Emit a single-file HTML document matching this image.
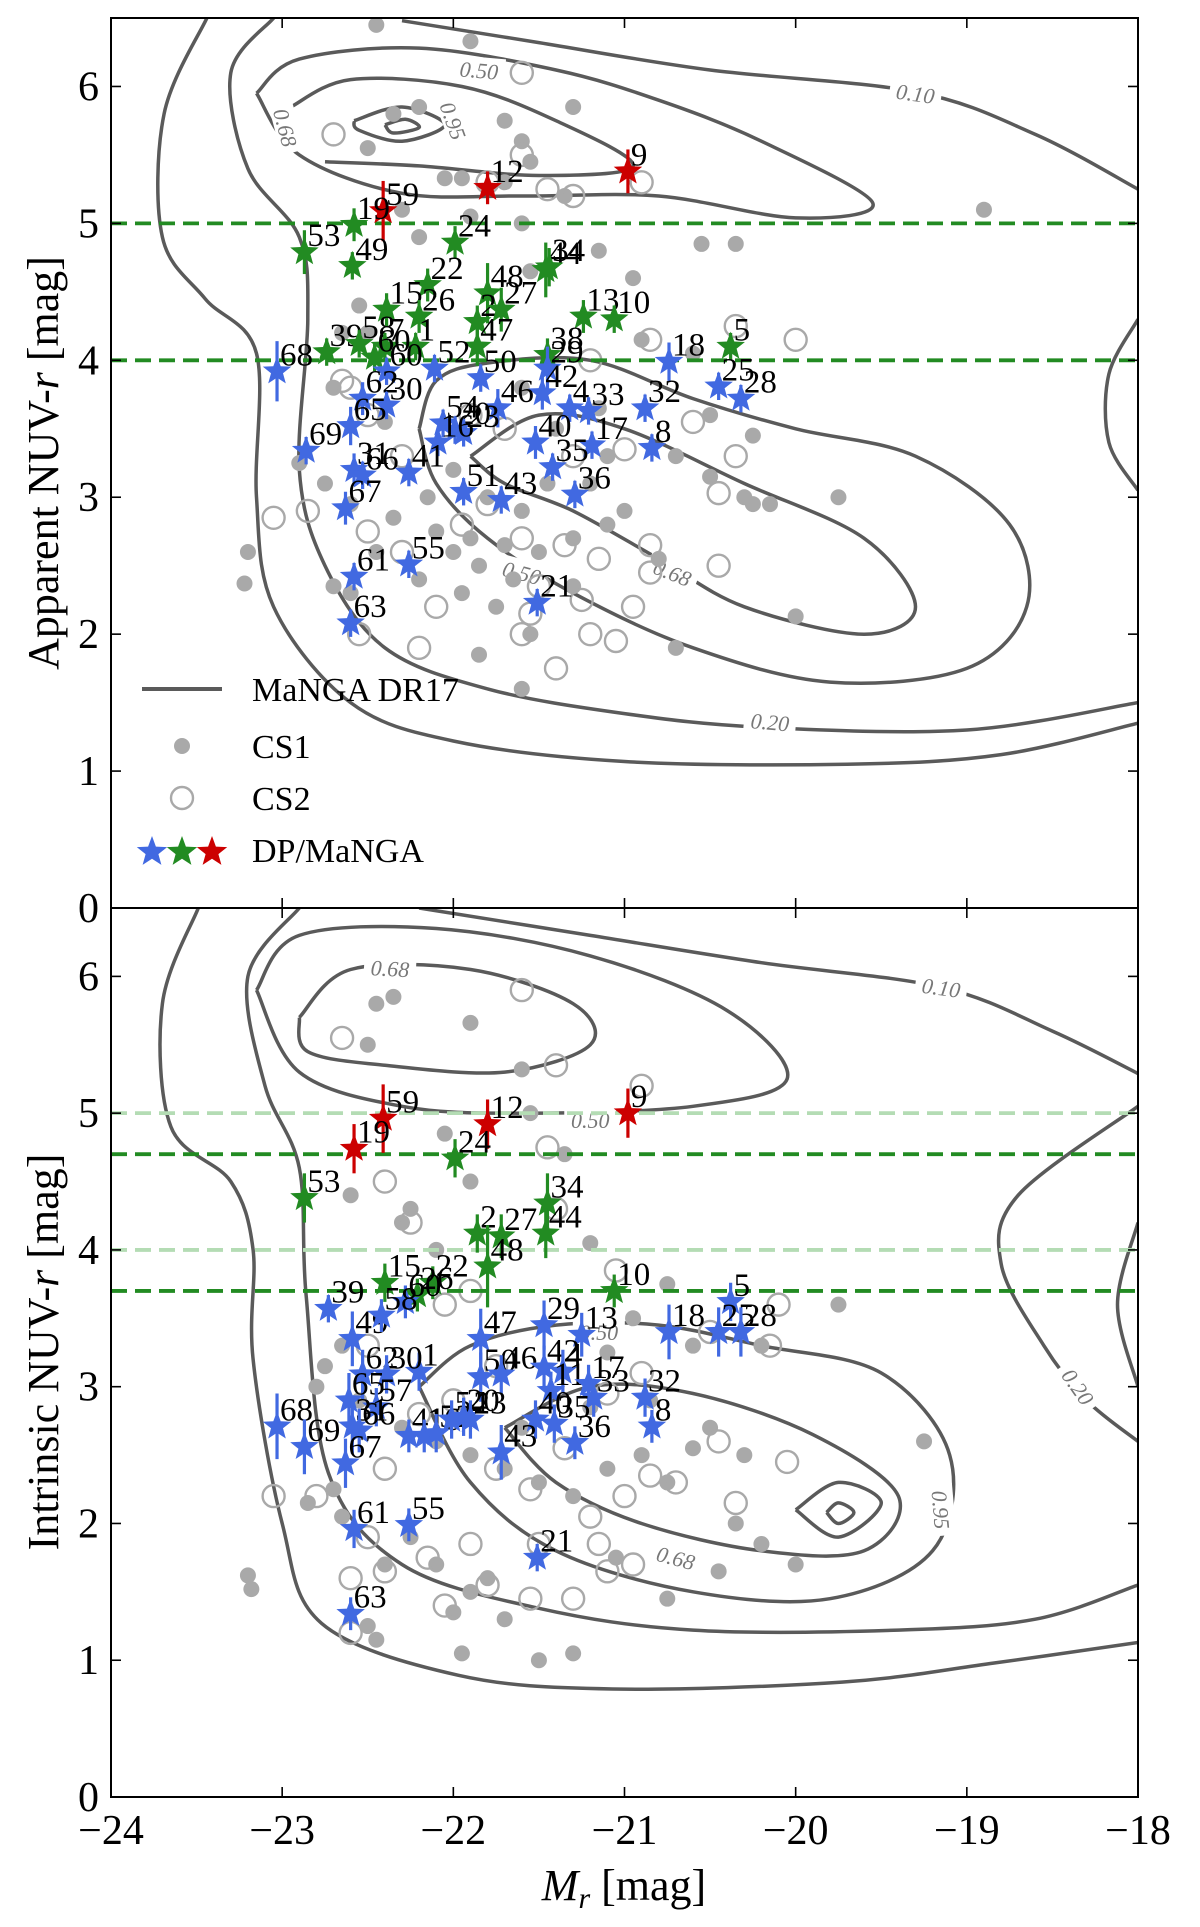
<!DOCTYPE html>
<html><head><meta charset="utf-8">
<style>
html,body{margin:0;padding:0;background:#fff;}
svg{display:block;font-family:"Liberation Serif","DejaVu Serif",serif;}
</style></head>
<body>
<svg id="chart" width="1200" height="1927" viewBox="0 0 1200 1927" xmlns="http://www.w3.org/2000/svg">
<g id="topPanel"></g>
<g id="botPanel"></g>
<g id="axesG"></g>
</svg>
<script>
// ---------- data ----------
const xTicks = [-24,-23,-22,-21,-20,-19,-18];
const yTicks = [0,1,2,3,4,5,6];
// top panel stars
const topIds   = ['9','12','59','19','53','49','24','22','15','26','48','2','27','44','34','13','10','47','39','58','7','1','38','5','60','68','60','52','50','29','42','46','18','25','28','32','4','33','62','30','65','54','20','23','16','69','40','17','8','35','31','66','41','51','43','36','67','55','61','21','63'];
const topMr    = [-20.98,-21.80,-22.41,-22.58,-22.87,-22.59,-21.99,-22.15,-22.39,-22.20,-21.80,-21.86,-21.72,-21.46,-21.44,-21.24,-21.06,-21.86,-22.74,-22.55,-22.40,-22.22,-21.45,-20.38,-22.46,-23.03,-22.39,-22.11,-21.84,-21.45,-21.48,-21.74,-20.74,-20.45,-20.32,-20.88,-21.32,-21.21,-22.53,-22.39,-22.60,-22.06,-21.99,-21.94,-22.09,-22.86,-21.52,-21.19,-20.84,-21.42,-22.58,-22.53,-22.26,-21.94,-21.72,-21.29,-22.63,-22.26,-22.58,-21.51,-22.60];
const topNUV   = [5.38,5.26,5.09,4.99,4.79,4.69,4.86,4.55,4.37,4.32,4.49,4.28,4.37,4.66,4.68,4.32,4.30,4.10,4.06,4.12,4.10,4.10,4.04,4.10,4.02,3.92,3.92,3.94,3.87,3.94,3.76,3.65,3.99,3.81,3.72,3.65,3.65,3.63,3.72,3.67,3.52,3.54,3.49,3.47,3.40,3.34,3.40,3.38,3.36,3.22,3.20,3.16,3.18,3.04,2.98,3.02,2.92,2.51,2.42,2.23,2.08];
const topErr   = [0.16,0.12,0.22,0.12,0.16,0.10,0.12,0.12,0.12,0.12,0.22,0.12,0.16,0.20,0.14,0.12,0.10,0.14,0.10,0.10,0.10,0.10,0.12,0.10,0.10,0.22,0.10,0.10,0.10,0.16,0.12,0.14,0.14,0.10,0.10,0.10,0.10,0.10,0.12,0.10,0.14,0.10,0.10,0.10,0.10,0.10,0.12,0.10,0.10,0.10,0.12,0.10,0.10,0.10,0.10,0.10,0.12,0.10,0.10,0.10,0.10];
const topCls   = ['r','r','r','g','g','g','g','g','g','g','g','g','g','g','g','g','g','g','g','g','g','g','g','g','g','b','b','b','b','b','b','b','b','b','b','b','b','b','b','b','b','b','b','b','b','b','b','b','b','b','b','b','b','b','b','b','b','b','b','b','b'];
// bottom panel stars
const botIds   = ['59','19','12','9','24','53','34','2','27','44','48','15','22','26','10','5','39','60','49','58','47','29','13','18','25','28','1','62','30','50','46','42','4','11','17','33','32','65','57','68','69','31','66','67','41','16','52','54','20','23','40','35','8','36','43','61','55','21','63'];
const botMr    = [-22.41,-22.58,-21.80,-20.98,-21.99,-22.87,-21.45,-21.86,-21.72,-21.46,-21.80,-22.40,-22.12,-22.21,-21.06,-20.38,-22.73,-22.28,-22.59,-22.42,-21.84,-21.47,-21.25,-20.74,-20.45,-20.32,-22.20,-22.53,-22.39,-21.84,-21.72,-21.47,-21.36,-21.43,-21.21,-21.18,-20.88,-22.61,-22.45,-23.03,-22.87,-22.59,-22.55,-22.63,-22.26,-22.17,-22.10,-22.01,-21.94,-21.90,-21.52,-21.41,-20.84,-21.29,-21.72,-22.58,-22.26,-21.51,-22.60];
const botNUV   = [4.96,4.74,4.92,5.00,4.67,4.38,4.34,4.12,4.10,4.12,3.88,3.76,3.76,3.67,3.70,3.62,3.57,3.62,3.35,3.52,3.35,3.45,3.38,3.40,3.40,3.40,3.11,3.09,3.09,3.07,3.09,3.14,3.11,2.97,3.02,2.92,2.92,2.90,2.85,2.71,2.56,2.71,2.68,2.44,2.64,2.64,2.66,2.76,2.78,2.76,2.76,2.73,2.71,2.59,2.52,1.96,1.99,1.75,1.34];
const botErr   = [0.25,0.18,0.18,0.18,0.14,0.18,0.22,0.14,0.16,0.18,0.30,0.14,0.12,0.12,0.12,0.14,0.10,0.12,0.20,0.12,0.22,0.18,0.16,0.20,0.18,0.18,0.14,0.18,0.14,0.18,0.14,0.16,0.16,0.14,0.14,0.14,0.14,0.20,0.14,0.24,0.20,0.20,0.16,0.18,0.12,0.12,0.14,0.14,0.14,0.14,0.14,0.14,0.12,0.12,0.20,0.14,0.12,0.10,0.12];
const botCls   = ['r','r','r','r','g','g','g','g','g','g','g','g','g','g','g','b','b','b','b','b','b','b','b','b','b','b','b','b','b','b','b','b','b','b','b','b','b','b','b','b','b','b','b','b','b','b','b','b','b','b','b','b','b','b','b','b','b','b','b'];
// comparison samples
const topCS1 = [[-22.45,6.45],[-21.9,6.33],[-22.2,5.85],[-22.35,5.8],[-21.7,5.75],[-21.6,5.6],[-21.55,5.45],[-21.3,5.85],[-22.5,5.55],[-22.05,5.33],[-21.95,5.33],[-21.9,5.05],[-20.95,4.6],[-20.55,4.85],[-20.35,4.85],[-18.9,5.1],[-22.55,4.4],[-22.65,4.2],[-21.55,4.65],[-21.15,4.8],[-20.9,4.15],[-20.6,4.05],[-20.25,3.45],[-20.5,3.6],[-20.7,3.3],[-20.5,3.15],[-20.25,2.95],[-19.75,3.0],[-22.9,3.25],[-22.75,3.1],[-22.6,2.95],[-22.35,2.85],[-22.1,2.75],[-21.9,2.7],[-21.7,2.65],[-21.5,2.6],[-21.3,2.7],[-21.1,2.8],[-21.6,2.9],[-21.8,3.0],[-22.0,3.2],[-21.2,3.1],[-21.0,2.9],[-22.45,2.6],[-22.2,2.4],[-21.95,2.3],[-21.75,2.2],[-21.55,2.0],[-21.85,1.85],[-22.6,2.3],[-22.7,2.35],[-23.2,2.6],[-23.22,2.37],[-20.8,2.55],[-20.7,1.9],[-20.0,2.13],[-21.6,1.6],[-22.0,2.6],[-21.4,3.5],[-21.15,3.65],[-22.2,4.9],[-22.3,5.1],[-21.7,5.3],[-21.35,5.2],[-21.6,5.0],[-22.5,4.2],[-22.7,3.8],[-22.4,3.55],[-21.6,3.8],[-21.1,3.3],[-20.3,3.0],[-20.15,2.95],[-21.65,2.4],[-21.3,2.35],[-21.45,3.1],[-22.15,3.0],[-21.85,2.5]];
const topCS2 = [[-21.6,6.1],[-22.7,5.65],[-21.6,5.5],[-21.45,5.25],[-21.8,5.3],[-21.3,5.2],[-20.9,5.3],[-22.65,3.85],[-22.5,3.6],[-21.3,3.3],[-21.0,3.35],[-20.6,3.55],[-20.35,3.3],[-20.45,3.03],[-20.0,4.15],[-20.35,4.25],[-20.85,4.15],[-21.2,4.0],[-23.05,2.85],[-22.85,2.9],[-22.5,2.75],[-22.3,2.6],[-22.1,2.2],[-21.95,2.8],[-21.8,2.95],[-21.6,2.7],[-21.35,2.65],[-21.15,2.55],[-20.85,2.65],[-20.85,2.45],[-20.45,2.5],[-21.55,2.15],[-21.6,2.0],[-21.4,1.75],[-22.2,1.9],[-21.2,2.0],[-21.05,1.95],[-21.25,2.25],[-20.95,2.2],[-22.55,2.0],[-21.5,2.35],[-21.9,3.6],[-21.7,3.5],[-22.3,3.3],[-22.6,3.8]];
const botCS1 = [[-22.45,5.8],[-22.35,5.85],[-21.9,5.66],[-22.5,5.5],[-21.6,5.32],[-21.55,5.0],[-22.05,4.85],[-21.35,4.7],[-22.6,4.4],[-21.9,4.5],[-22.3,4.2],[-22.25,4.3],[-21.2,4.05],[-22.1,4.0],[-20.75,3.75],[-19.75,3.6],[-20.2,3.3],[-20.6,3.3],[-20.95,3.5],[-21.1,3.25],[-22.65,3.3],[-22.75,3.15],[-22.8,3.0],[-22.55,2.9],[-22.3,2.7],[-22.1,2.6],[-21.9,2.5],[-21.7,2.4],[-21.5,2.3],[-21.3,2.2],[-21.1,2.4],[-20.9,2.5],[-20.75,2.3],[-20.6,2.55],[-20.5,2.7],[-20.3,2.5],[-20.35,2.0],[-20.2,1.85],[-20.0,1.7],[-19.25,2.6],[-22.25,1.9],[-22.1,1.7],[-21.9,1.5],[-21.7,1.3],[-21.5,1.0],[-21.3,1.05],[-21.8,1.6],[-22.0,1.35],[-22.5,1.25],[-22.45,1.15],[-22.4,1.7],[-22.65,2.05],[-23.2,1.62],[-23.18,1.52],[-20.75,1.45],[-20.45,1.65],[-21.05,1.75],[-21.95,1.05],[-22.7,2.25],[-22.85,2.15],[-21.6,2.7],[-21.2,2.85],[-20.85,2.9]];
const botCS2 = [[-21.6,5.9],[-22.65,5.55],[-21.4,5.35],[-21.45,4.75],[-21.4,4.3],[-22.4,4.5],[-20.9,5.2],[-22.25,4.2],[-21.9,3.7],[-22.05,3.6],[-21.05,3.85],[-20.5,3.4],[-20.1,3.6],[-20.15,3.3],[-20.45,2.6],[-20.05,2.45],[-20.35,2.15],[-20.7,2.3],[-20.85,2.35],[-21.0,2.2],[-21.2,2.05],[-21.1,1.65],[-20.95,1.7],[-21.3,1.45],[-21.55,1.45],[-21.8,1.55],[-21.9,1.85],[-22.15,1.75],[-22.4,1.65],[-22.6,1.6],[-22.6,1.2],[-22.5,1.9],[-22.8,2.2],[-23.05,2.2],[-22.4,2.4],[-22.2,2.8],[-22.0,2.9],[-21.75,2.4],[-21.55,2.25],[-21.35,2.55],[-21.1,2.95],[-20.9,3.1],[-21.75,3.15],[-22.5,3.3],[-21.15,1.85],[-22.05,1.4],[-21.5,1.85]];
// MaNGA DR17 density contours (data coordinates)
const topContours = [
 [[-23.44,6.5],[-23.69,5.8],[-23.7,4.9],[-23.45,4.45],[-23.15,4.05],[-23.15,3.0],[-23.05,2.2],[-22.6,1.5],[-22.0,1.22],[-21.0,1.07],[-19.7,1.05],[-18.8,1.12],[-18.0,1.35]],
 [[-22.3,6.48],[-21.5,6.32],[-20.5,6.12],[-19.3,5.96],[-18.6,5.65],[-18.0,5.25]],
 [[-18.0,4.3],[-18.17,3.9],[-18.17,3.4],[-18.0,3.05]],
 [[-23.05,6.5],[-23.3,6.1],[-23.2,5.4],[-22.9,4.9],[-22.85,4.3],[-22.9,3.2],[-22.75,2.5],[-22.4,1.9],[-21.8,1.6],[-21.0,1.42],[-20.2,1.32],[-19.0,1.3],[-18.0,1.5]],
 [[-23.15,5.95],[-22.9,6.2],[-22.2,6.28],[-21.4,6.12],[-20.8,5.9],[-20.2,5.6],[-19.55,5.15],[-20.0,5.04],[-20.8,5.2],[-21.6,5.2],[-22.3,5.22],[-22.9,5.5],[-23.15,5.95]],
 [[-22.95,5.85],[-22.6,6.05],[-21.95,6.0],[-21.4,5.75],[-20.95,5.42],[-21.5,5.35],[-22.2,5.42],[-22.75,5.45]],
 [[-22.58,5.75],[-22.3,5.85],[-22.05,5.72],[-22.3,5.6],[-22.55,5.68],[-22.58,5.75]],
 [[-22.4,5.72],[-22.28,5.76],[-22.2,5.7],[-22.35,5.66],[-22.4,5.72]],
 [[-22.2,3.5],[-22.1,3.85],[-21.8,3.98],[-21.2,4.0],[-20.6,3.72],[-20.0,3.5],[-19.3,3.3],[-18.75,2.8],[-18.65,2.2],[-19.0,1.75],[-19.8,1.65],[-20.6,1.9],[-21.3,2.3],[-21.8,2.7],[-22.1,3.1],[-22.2,3.5]],
 [[-21.9,3.3],[-21.5,3.6],[-21.0,3.5],[-20.3,3.1],[-19.6,2.7],[-19.3,2.2],[-19.6,2.0],[-20.3,2.2],[-20.8,2.55],[-21.3,2.9],[-21.7,3.1],[-21.9,3.3]]
];
const botContours = [
 [[-23.49,6.5],[-23.7,5.8],[-23.65,4.9],[-23.3,4.5],[-23.17,4.0],[-23.17,3.2],[-23.0,2.0],[-22.77,1.27],[-21.97,0.89],[-21.07,0.79],[-19.73,0.84],[-18.84,0.98],[-18.0,1.13]],
 [[-22.2,6.5],[-21.2,6.3],[-20.2,6.1],[-19.15,5.92],[-18.5,5.6],[-18.0,5.29]],
 [[-18.0,5.05],[-18.7,4.4],[-18.8,3.9],[-18.55,3.3],[-18.3,2.9],[-18.0,2.6]],
 [[-18.0,4.2],[-18.12,3.6],[-18.0,3.0]],
 [[-22.9,6.5],[-23.2,6.0],[-23.1,5.2],[-22.9,4.6],[-22.86,3.67],[-22.73,2.37],[-22.3,1.7],[-21.5,1.38],[-20.6,1.22],[-19.4,1.22],[-18.6,1.3],[-18.0,1.55]],
 [[-23.15,5.9],[-22.9,6.3],[-22.1,6.35],[-21.2,6.15],[-20.4,5.75],[-20.05,5.25],[-20.6,5.05],[-21.6,5.0],[-22.3,5.05],[-22.9,5.3],[-23.15,5.9]],
 [[-22.9,5.7],[-22.6,6.05],[-21.9,6.05],[-21.3,5.8],[-21.2,5.5],[-21.7,5.3],[-22.4,5.35],[-22.85,5.45],[-22.9,5.7]],
 [[-22.2,3.0],[-21.9,3.3],[-21.4,3.45],[-20.8,3.45],[-20.2,3.3],[-19.5,3.1],[-19.1,2.5],[-19.2,1.8],[-19.8,1.45],[-20.6,1.5],[-21.4,1.8],[-21.9,2.3],[-22.2,3.0]],
 [[-21.7,2.7],[-21.2,3.0],[-20.6,2.95],[-19.9,2.65],[-19.4,2.2],[-19.6,1.8],[-20.2,1.8],[-20.9,2.0],[-21.4,2.3],[-21.7,2.7]],
 [[-20.0,2.1],[-19.75,2.3],[-19.5,2.15],[-19.75,1.9],[-20.0,2.1]],
 [[-19.82,2.08],[-19.75,2.15],[-19.66,2.08],[-19.75,2.0],[-19.82,2.08]]
];
const topLabels = [['0.50',-21.85,6.12,5],['0.10',-19.3,5.95,8],['0.68',-22.98,5.7,75],['0.95',-22.0,5.75,70],['0.50',-21.6,2.45,15],['0.68',-20.72,2.45,22],['0.20',-20.15,1.36,5]];
const botLabels = [['0.68',-22.37,6.06,3],['0.10',-19.15,5.92,8],['0.50',-21.2,4.95,0],['0.50',-21.15,3.4,0],['0.20',-18.35,3.0,55],['0.68',-20.7,1.75,15],['0.95',-19.15,2.1,85]];

// ---------- layout ----------
const L=111, R=1138;
const panels = {top:{t:18,b:908}, bot:{t:908,b:1797}};
const NS='http://www.w3.org/2000/svg';
const xS = m => L + (m+24)/6*(R-L);
const yS = (p,v) => p.b - v/6.5*(p.b-p.t);
const COL = {b:'#4169e1', g:'#228b22', r:'#cc0000'};
function mk(tag, attrs, parent){const e=document.createElementNS(NS,tag);for(const k in attrs)e.setAttribute(k,attrs[k]);parent.appendChild(e);return e;}
function smooth(pts){
  let d=`M${pts[0][0].toFixed(1)},${pts[0][1].toFixed(1)}`;
  for(let i=0;i<pts.length-1;i++){
    const p0=pts[i-1]||pts[i],p1=pts[i],p2=pts[i+1],p3=pts[i+2]||p2;
    const c1=[p1[0]+(p2[0]-p0[0])/6,p1[1]+(p2[1]-p0[1])/6];
    const c2=[p2[0]-(p3[0]-p1[0])/6,p2[1]-(p3[1]-p1[1])/6];
    d+=`C${c1[0].toFixed(1)},${c1[1].toFixed(1)} ${c2[0].toFixed(1)},${c2[1].toFixed(1)} ${p2[0].toFixed(1)},${p2[1].toFixed(1)}`;
  }
  return d;
}
function starPts(cx,cy,r){let s=[];for(let i=0;i<10;i++){const a=-Math.PI/2+i*Math.PI/5;const rr=i%2?r*0.42:r;s.push((cx+rr*Math.cos(a)).toFixed(1)+','+(cy+rr*Math.sin(a)).toFixed(1));}return s.join(' ');}

function drawPanel(g,p,contours,labels,cs1,cs2,ids,mr,nuv,err,cls,hlines,name){
  const cp=mk('clipPath',{id:'clip'+name},g);
  mk('rect',{x:L,y:p.t,width:R-L,height:p.b-p.t},cp);
  const inner=mk('g',{'clip-path':`url(#clip${name})`},g);
  contours.forEach((c,i)=>{
    const e=mk('path',{d:smooth(c.map(q=>[xS(q[0]),yS(p,q[1])])),fill:'none',stroke:'#5a5a5a','stroke-width':3.5},inner);
    
    
  });
  labels.forEach(l=>{
    const x=xS(l[1]),y=yS(p,l[2]);
    const lg=mk('g',{transform:`translate(${x},${y}) rotate(${l[3]})`},inner);
    
    
    mk('rect',{x:-26,y:-13,width:52,height:24,fill:'#fff'},lg);
    const t=mk('text',{x:0,y:8,'text-anchor':'middle','font-size':22,'font-style':'italic',fill:'#777'},lg);t.textContent=l[0];
  });
  cs1.forEach(q=>{
    const e=mk('circle',{cx:xS(q[0]),cy:yS(p,q[1]),r:8,fill:'#a9a9a9'},inner);
    
    
  });
  cs2.forEach(q=>{
    const e=mk('circle',{cx:xS(q[0]),cy:yS(p,q[1]),r:11,fill:'none',stroke:'#a9a9a9','stroke-width':2.4},inner);
    
    
  });
  hlines.forEach(h=>{
    const e=mk('line',{x1:L,x2:R,y1:yS(p,h[0]),y2:yS(p,h[0]),stroke:h[1],'stroke-width':3.8,'stroke-dasharray':'16,8'},inner);
    
    
  });
  ids.forEach((id,i)=>{
    const x=xS(mr[i]),y=yS(p,nuv[i]),c=COL[cls[i]];
    const sg=mk('g',{},inner);
    
    
    mk('line',{x1:x,x2:x,y1:yS(p,nuv[i]+err[i]),y2:yS(p,nuv[i]-err[i]),stroke:c,'stroke-width':3.2},sg);
    mk('polygon',{points:starPts(x,y,15),fill:c},sg);
    const t=mk('text',{x:x+3,y:y-6,'font-size':33,fill:'#000'},sg);t.textContent=id;
  });
}

const topG=document.getElementById('topPanel'), botG=document.getElementById('botPanel'), axG=document.getElementById('axesG');
drawPanel(topG,panels.top,topContours,topLabels,topCS1,topCS2,topIds,topMr,topNUV,topErr,topCls,[[5.0,'#228b22'],[4.0,'#228b22']],'T');
drawPanel(botG,panels.bot,botContours,botLabels,botCS1,botCS2,botIds,botMr,botNUV,botErr,botCls,[[5.0,'#b4dcb4'],[4.0,'#b4dcb4'],[4.7,'#228b22'],[3.7,'#228b22']],'B');

// legend
const lgd=mk('g',{},topG);


mk('line',{x1:142,x2:222,y1:689,y2:689,stroke:'#5a5a5a','stroke-width':4},lgd);
mk('circle',{cx:182,cy:746,r:8,fill:'#a9a9a9'},lgd);
mk('circle',{cx:182,cy:798,r:11,fill:'none',stroke:'#a9a9a9','stroke-width':2.4},lgd);
mk('polygon',{points:starPts(152,852,16),fill:COL.b},lgd);
mk('polygon',{points:starPts(182,852,16),fill:COL.g},lgd);
mk('polygon',{points:starPts(212,852,16),fill:COL.r},lgd);
[['MaNGA DR17',701],['CS1',758],['CS2',810],['DP/MaNGA',862]].forEach(a=>{
  const t=mk('text',{x:252,y:a[1],'font-size':34},lgd);t.textContent=a[0];
  
  
});

// axes
[['top',panels.top],['bot',panels.bot]].forEach(([nm,p])=>{
  const f=mk('rect',{x:L,y:p.t,width:R-L,height:p.b-p.t,fill:'none',stroke:'#000','stroke-width':2},axG);
  
  
  xTicks.forEach(v=>{
    mk('line',{x1:xS(v),x2:xS(v),y1:p.b,y2:p.b-10,stroke:'#000','stroke-width':1.6},axG);
    mk('line',{x1:xS(v),x2:xS(v),y1:p.t,y2:p.t+10,stroke:'#000','stroke-width':1.6},axG);
  });
  yTicks.forEach(v=>{
    const y=yS(p,v);
    mk('line',{x1:L,x2:L+10,y1:y,y2:y,stroke:'#000','stroke-width':1.6},axG);
    mk('line',{x1:R,x2:R-10,y1:y,y2:y,stroke:'#000','stroke-width':1.6},axG);
    const t=mk('text',{x:L-12,y:y+14,'text-anchor':'end','font-size':42},axG);t.textContent=v;
    
    
  });
});
xTicks.forEach(v=>{
  const t=mk('text',{x:xS(v),y:1844,'text-anchor':'middle','font-size':42},axG);t.textContent='\u2212'+Math.abs(v);
  
  
});
const xt=mk('text',{x:624,y:1900,'text-anchor':'middle','font-size':44},axG);


xt.innerHTML='<tspan font-style="italic">M</tspan><tspan font-style="italic" font-size="30" dy="8">r</tspan><tspan dy="-8"> [mag]</tspan>';
const yt1=mk('text',{x:0,y:0,transform:'translate(58,463) rotate(-90)','text-anchor':'middle','font-size':44},axG);


yt1.innerHTML='Apparent NUV-<tspan font-style="italic">r</tspan> [mag]';
const yt2=mk('text',{x:0,y:0,transform:'translate(58,1352) rotate(-90)','text-anchor':'middle','font-size':44},axG);


yt2.innerHTML='Intrinsic NUV-<tspan font-style="italic">r</tspan> [mag]';
</script>
</body></html>
